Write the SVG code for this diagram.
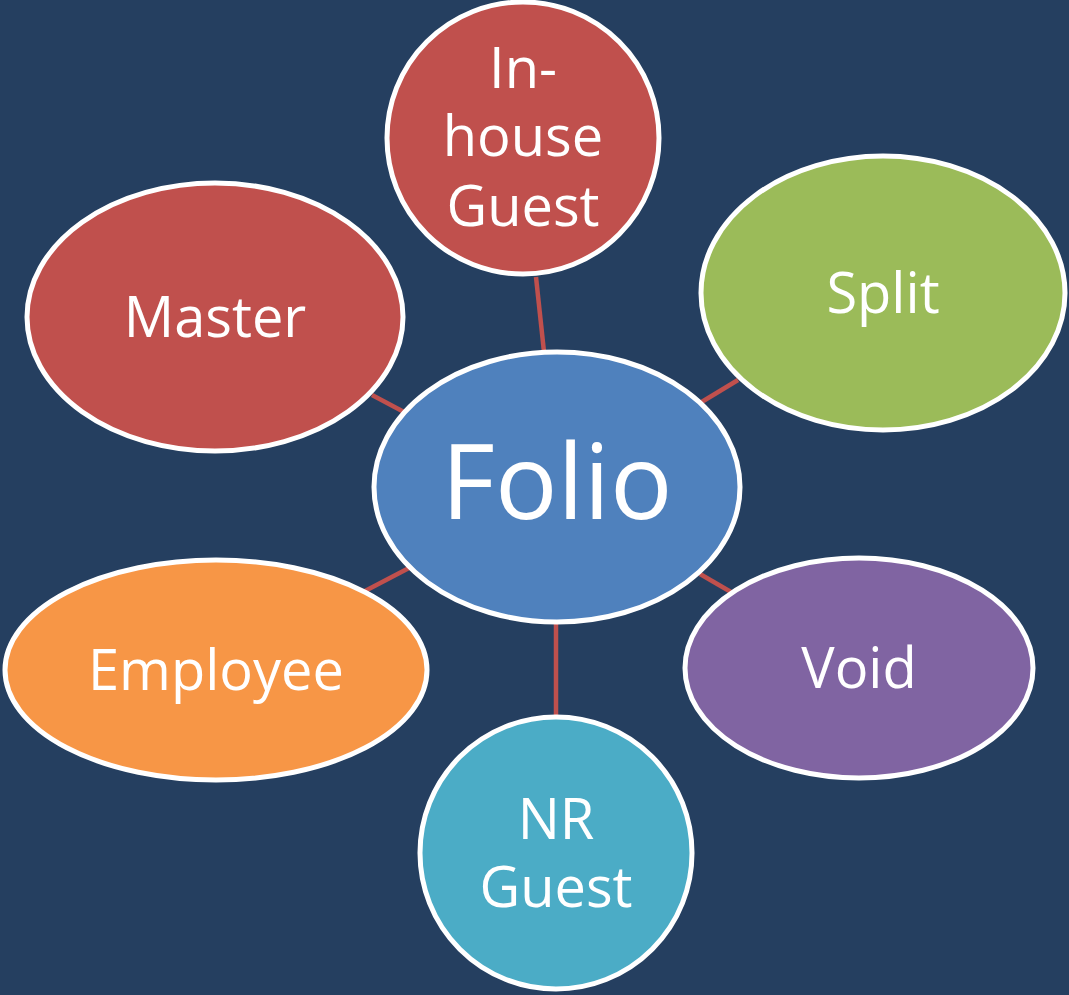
<svg xmlns="http://www.w3.org/2000/svg" width="1069" height="995" viewBox="0 0 1069 995">
<style>
.n{stroke:#fff;stroke-width:5}
.c line{stroke:#c0504d;stroke-width:4.5}
text{font-family:"Open Sans","Liberation Sans",sans-serif;fill:#fff;text-anchor:middle}
.t{font-size:56px}
</style>
<rect width="1069" height="995" fill="#253f60"/>
<g class="c">
<line x1="536" y1="277" x2="544" y2="352"/>
<line x1="738" y1="380" x2="700" y2="403"/>
<line x1="372" y1="395" x2="404" y2="412"/>
<line x1="365" y1="591" x2="409" y2="568"/>
<line x1="700" y1="574" x2="731" y2="592"/>
<line x1="556" y1="624" x2="556" y2="716"/>
</g>
<g id="inhouse"><circle class="n" cx="523" cy="138" r="136" fill="#c0504d"/><text class="t" x="523" y="88">In-<tspan x="523" dy="68">house</tspan><tspan x="523" dy="70">Guest</tspan></text></g>
<g id="split"><ellipse class="n" cx="883" cy="293" rx="182" ry="137" fill="#9bbb59"/><text class="t" x="883" y="313">Split</text></g>
<g id="master"><ellipse class="n" cx="215" cy="317" rx="188" ry="134" fill="#c0504d"/><text class="t" x="215" y="337">Master</text></g>
<g id="employee"><ellipse class="n" cx="216" cy="670" rx="211" ry="110" fill="#f79646"/><text class="t" x="216" y="690">Employee</text></g>
<g id="void"><ellipse class="n" cx="859" cy="668" rx="174" ry="110" fill="#8064a2"/><text class="t" x="859" y="688">Void</text></g>
<g id="nrguest"><circle class="n" cx="556" cy="853" r="136" fill="#4bacc6"/><text class="t" x="556" y="839">NR<tspan x="556" dy="68">Guest</tspan></text></g>
<g id="folio"><ellipse class="n" cx="557" cy="487" rx="183" ry="135" fill="#4f81bd"/><text x="557" y="519" style="font-size:104px">Folio</text></g>
</svg>
